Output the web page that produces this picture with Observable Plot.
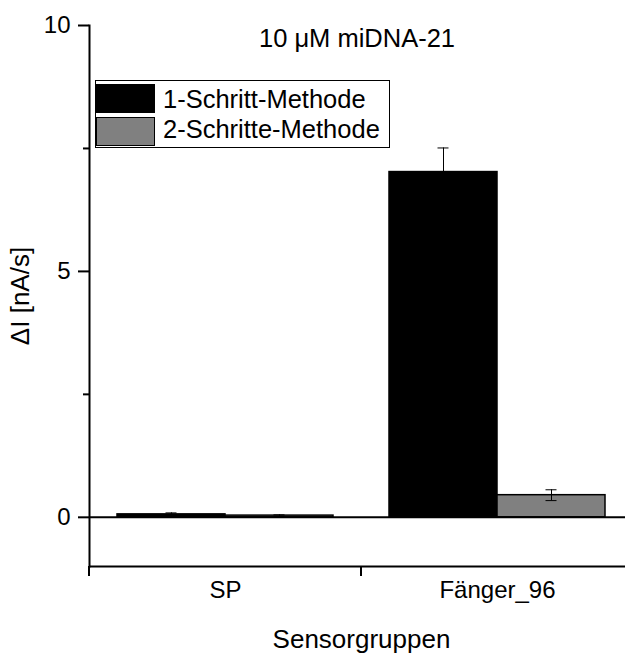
<!DOCTYPE html>
<html>
<head>
<meta charset="utf-8">
<script src="https://cdn.jsdelivr.net/npm/d3@7"></script>
<script src="https://cdn.jsdelivr.net/npm/@observablehq/plot@0.6"></script>
<style>
  body { margin: 0; background: #fff; }
  #chart {
    position: relative; width: 625px; height: 654px; overflow: hidden;
    font-family: "Liberation Sans", Arial, sans-serif; color: #000;
  }
  #chart svg { position: absolute; left: 0; top: 0; }
  .title {
    position: absolute; left: 357px; top: 25px; transform: translateX(-50%);
    font-size: 25.5px; line-height: 26px; white-space: nowrap;
  }
  .legend {
    position: absolute; left: 95px; top: 80px; width: 295px; height: 68px;
    border: 1px solid #000; box-sizing: border-box; background: #fff;
  }
  .legend .sw {
    position: absolute; left: 0; width: 59px; height: 29px;
    border: 1.5px solid #000; box-sizing: border-box;
  }
  .legend .lb {
    position: absolute; left: 67px; font-size: 25.5px; line-height: 26px; white-space: nowrap;
  }
</style>
</head>
<body>
<div id="chart"></div>
<script>
// Sensor groups and measurement methods
const groups = ["SP", "Fänger_96"];
const series = ["1-Schritt-Methode", "2-Schritte-Methode"];

// Mean current change ΔI [nA/s] and standard deviation per group
const oneStepMean = [0.06, 7.02];
const oneStepErr = [0.03, 0.49];
const twoStepMean = [0.035, 0.45];
const twoStepErr = [0.015, 0.11];

const yMajorTicks = [0, 5, 10];
const yMinorTicks = [2.5, 7.5];
const titleText = "10 μM miDNA-21";
const yLabel = "ΔI [nA/s]";
const xLabel = "Sensorgruppen";

const rows = [];
groups.forEach((g, i) => {
  rows.push({group: g, series: series[0], value: oneStepMean[i], err: oneStepErr[i]});
  rows.push({group: g, series: series[1], value: twoStepMean[i], err: twoStepErr[i]});
});

const capInset = 48.5;
const errStyle = {stroke: "#000", strokeWidth: 1};

const plot = Plot.plot({
  width: 625,
  height: 654,
  marginLeft: 89,
  marginRight: -8,
  marginTop: 25,
  marginBottom: 88,
  style: {fontFamily: "Liberation Sans, Arial, sans-serif", background: "transparent", color: "#000"},
  fx: {domain: groups, padding: 0},
  x: {domain: series, paddingInner: 0, paddingOuter: 0.25, axis: null},
  y: {domain: [-1, 10]},
  color: {domain: series, range: ["#000000", "#808080"]},
  marks: [
    Plot.barY(rows, {fx: "group", x: "series", y: "value", fill: "series", stroke: "#000", strokeWidth: 1.5}),
    Plot.ruleX(rows, {fx: "group", x: "series", y1: d => d.value - d.err, y2: d => d.value + d.err, ...errStyle}),
    Plot.tickY(rows, {fx: "group", x: "series", y: d => d.value + d.err, ...errStyle, insetLeft: capInset, insetRight: capInset}),
    Plot.tickY(rows, {fx: "group", x: "series", y: d => d.value - d.err, ...errStyle, insetLeft: capInset, insetRight: capInset}),
    Plot.ruleY([0], {stroke: "#000", strokeWidth: 2}),
    Plot.ruleY([-1], {stroke: "#000", strokeWidth: 2}),
    Plot.frame({anchor: "left", facetAnchor: "left", stroke: "#000", strokeWidth: 2}),
    Plot.axisY({
      ticks: yMajorTicks, tickSize: 11, tickPadding: 8, strokeWidth: 2, fontSize: 24,
      tickFormat: d => String(d), label: null
    }),
    Plot.axisY({ticks: yMinorTicks, tickSize: 6, strokeWidth: 2, tickFormat: () => "", label: null}),
    Plot.axisY({
      ticks: [], fontSize: 26,
      label: yLabel, labelAnchor: "center", labelOffset: 79, labelArrow: "none"
    }),
    Plot.axisFx({
      anchor: "bottom", tickSize: 0, tickPadding: 14, fontSize: 24, label: null
    }),
    Plot.axisFx({
      anchor: "bottom", ticks: [], fontSize: 26,
      label: xLabel, labelAnchor: "center", labelOffset: 81, labelArrow: "none"
    })
  ]
});

// Group boundary ticks on the bottom axis
const fxScale = plot.scale("fx");
const yScale = plot.scale("y");
const edges = groups.map(g => fxScale.apply(g));
edges.push(fxScale.apply(groups[groups.length - 1]) + fxScale.bandwidth);
const yBase = yScale.apply(-1);
d3.select(plot).append("g")
  .selectAll("line").data(edges).join("line")
  .attr("x1", d => d).attr("x2", d => d)
  .attr("y1", yBase).attr("y2", yBase + 10)
  .attr("stroke", "#000").attr("stroke-width", 2);

const chart = document.getElementById("chart");
chart.appendChild(plot);

// Title
const title = document.createElement("div");
title.className = "title";
title.textContent = titleText;
chart.appendChild(title);

// Legend built from the color scale
const colorScale = plot.scale("color");
const legend = document.createElement("div");
legend.className = "legend";
series.forEach((s, i) => {
  const sw = document.createElement("div");
  sw.className = "sw";
  sw.style.top = (3 + i * 33) + "px";
  sw.style.background = colorScale.apply(s);
  legend.appendChild(sw);
  const lb = document.createElement("div");
  lb.className = "lb";
  lb.style.top = (5 + i * 30) + "px";
  lb.textContent = s;
  legend.appendChild(lb);
});
chart.appendChild(legend);
</script>
</body>
</html>
